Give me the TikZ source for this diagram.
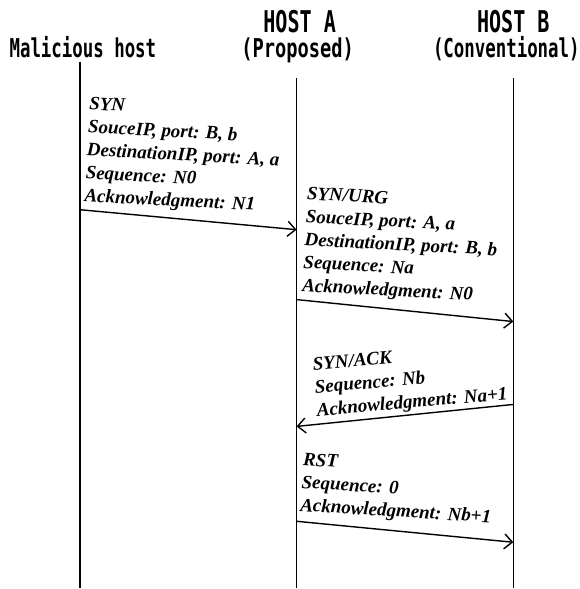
\documentclass[tikz,border=0pt]{standalone}
\usepackage{fontspec}
\setmainfont{Liberation Serif}
\newfontfamily\gothic{DejaVu Sans Mono}
\usetikzlibrary{arrows.meta}
\newcommand\narrowtxt[1]{\scalebox{0.67}[1]{#1}}

\begin{document}
\begin{tikzpicture}[x=1pt,y=1pt,
  lifeline/.style={line width=1.6pt},
  msg/.style={line width=1.4pt,-{Straight Barb[length=8pt,width=15pt,line width=1.4pt]}},
  pkt/.style={align=left,inner sep=0pt,anchor=south west,
    font=\fontsize{19}{23}\selectfont\bfseries\itshape},
  hdr/.style={inner sep=0pt,anchor=base,font=\fontsize{26}{26}\selectfont\gothic\bfseries}]
\path (0,0) rectangle (577,589);
% headers
\node[hdr] (mal) at (83,531) {\narrowtxt{Malicious host}};
\node[hdr,font=\fontsize{30}{30}\selectfont\gothic\bfseries] (hostA) at (300,556) {\narrowtxt{HOST A}};
\node[hdr] (propA) at (298,531) {\scalebox{0.72}[1]{(Proposed)}};
\node[hdr,font=\fontsize{30}{30}\selectfont\gothic\bfseries] (hostB) at (514,556) {\narrowtxt{HOST B}};
\node[hdr] (convB) at (507,531) {\narrowtxt{(Conventional)}};
% lifelines
\coordinate (malTop) at (80,527);
\coordinate (malBot) at (80,0);
\coordinate (aTop) at (297,511);
\coordinate (aBot) at (297,0);
\coordinate (bTop) at (514,511);
\coordinate (bBot) at (514,0);
\draw[lifeline] (malTop) -- (malBot);
\draw[lifeline] (aTop) -- (aBot);
\draw[lifeline] (bTop) -- (bBot);
% SYN
\coordinate (m1) at (80,379);
\coordinate (a1) at (297,359);
\draw[msg] (m1) -- (a1);
\node[pkt,rotate=-3] (syn) at (84,383) {SYN\\SouceIP, port: B, b\\DestinationIP, port: A, a\\Sequence: N0\\Acknowledgment: N1};
% SYN/URG
\coordinate (a2) at (297,289);
\coordinate (b2) at (514,267);
\draw[msg] (a2) -- (b2);
\node[pkt,rotate=-3] (synurg) at (302,293) {SYN/URG\\SouceIP, port: A, a\\DestinationIP, port: B, b\\Sequence: Na\\Acknowledgment: N0};
% SYN/ACK
\coordinate (b3) at (514,184);
\coordinate (a3) at (297,162);
\draw[msg] (b3) -- (a3);
\node[pkt,rotate=5] (synack) at (318,168) {SYN/ACK\\Sequence: Nb\\Acknowledgment: Na+1};
% RST
\coordinate (a4) at (297,67);
\coordinate (b4) at (514,46);
\draw[msg] (a4) -- (b4);
\node[pkt,rotate=-3.5] (rst) at (300,73) {RST\\Sequence: 0\\Acknowledgment: Nb+1};
\end{tikzpicture}
\end{document}
